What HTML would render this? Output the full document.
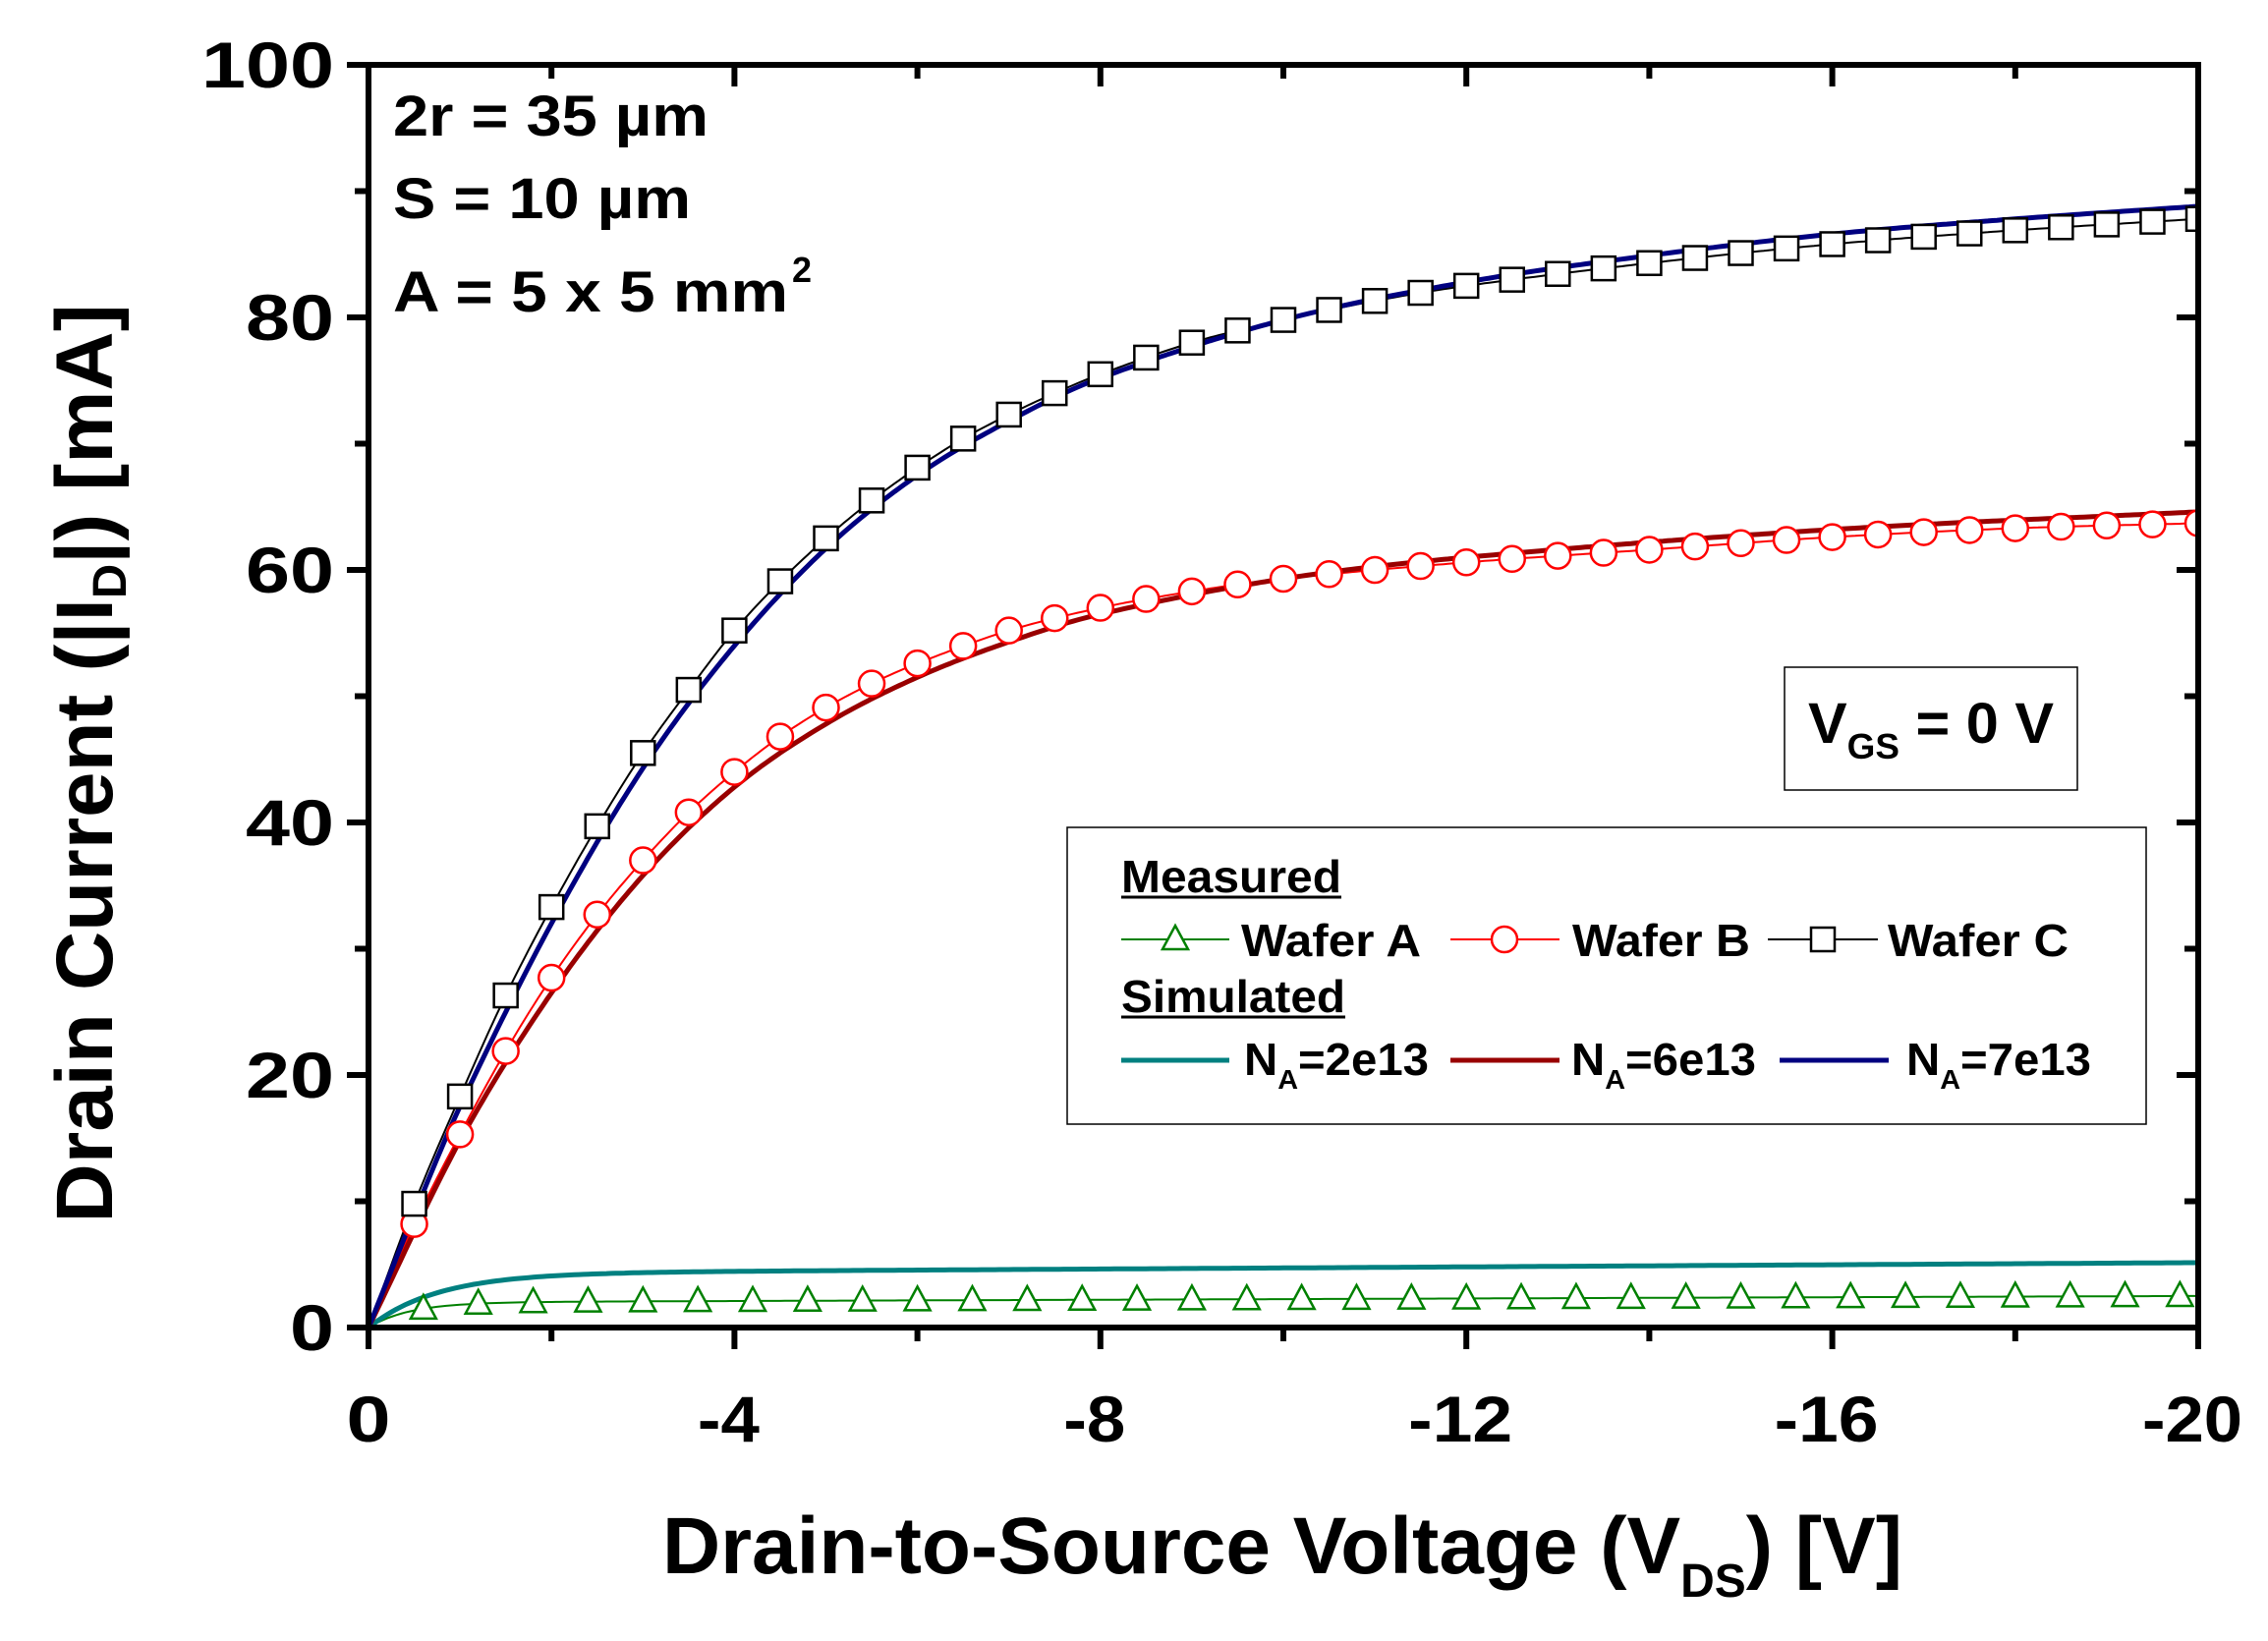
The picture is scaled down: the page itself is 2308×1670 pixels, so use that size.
<!DOCTYPE html>
<html><head><meta charset="utf-8"><style>
html,body{margin:0;padding:0;background:#fff;}
svg{display:block;}
text{font-family:"Liberation Sans",Arial,sans-serif;font-weight:bold;}
</style></head><body>
<svg id="s" width="2308" height="1670" xmlns="http://www.w3.org/2000/svg"></svg>
<script>
const s=document.getElementById('s');
const L=375,R=2237,T=66,B=1351;
const X=v=>L+v/20*(R-L), Y=i=>B-i/100*(B-T);
let h='';
function mk(tab){const xs=Object.keys(tab).map(Number).sort((a,b)=>a-b),ys=xs.map(k=>tab[k]);
 return v=>{let i=0;while(i<xs.length-2&&v>xs[i+1])i++;
  const x0=xs[i],x1=xs[i+1],t=(v-x0)/(x1-x0);
  const p0=i>0?ys[i-1]:ys[0]-(ys[1]-ys[0]),p1=ys[i],p2=ys[i+1],p3=i+2<ys.length?ys[i+2]:ys[i+1]+(ys[i+1]-ys[i]);
  const h0=i>0?(x1-xs[i-1]):2*(x1-x0),h1=i+2<xs.length?(xs[i+2]-x0):2*(x1-x0);
  const m1=(p2-p0)/h0*(x1-x0),m2=(p3-p1)/h1*(x1-x0);
  const t2=t*t,t3=t2*t;
  return (2*t3-3*t2+1)*p1+(t3-2*t2+t)*m1+(-2*t3+3*t2)*p2+(t3-t2)*m2;};}
const fC=mk({0:0,.5:9.8,1:18.3,1.5:26.3,2:33.3,2.5:39.7,3:45.5,3.5:50.5,4:55.2,4.5:59.1,5:62.5,5.5:65.5,6:68.1,6.5:70.4,7:72.3,7.5:74,8:75.5,9:78,10:79.8,11:81.3,12:82.5,14:84.3,16:85.8,18:86.9,20:87.8});
const fBl=mk({0:0,.5:9,1:17.5,2:32,3:44.3,4:54,5:61.7,6:67.5,7:71.8,8:75.2,10:79.8,12:82.8,14:84.9,16:86.6,18:87.8,20:88.8});
const fB=mk({0:0,.5:8.2,1:15.3,1.5:21.9,2:27.7,2.5:32.7,3:37,3.5:40.8,4:44,4.5:46.8,5:49.1,5.5:51,6:52.6,7:55.2,8:57,9:58.3,10:59.3,12:60.6,14:61.6,16:62.6,18:63.3,20:63.7});
const fR=mk({0:0,1:14.8,2:26.5,3:35.8,4:42.8,5:47.8,6:51.5,7:54.3,8:56.5,10:59.3,12:61,16:63.2,20:64.6});
const f=(a,t,b,v)=>a*(1-Math.exp(-v/t))+b*v;
const fA=v=>f(2.0,0.45,0.025,v), fT=v=>f(4.3,0.75,0.042,v);
function path(fn,col,w){let d='';for(let v=0;v<=20.001;v+=0.05){d+=(d?'L':'M')+X(v).toFixed(1)+','+Y(fn(v)).toFixed(1);}return `<path d="${d}" fill="none" stroke="${col}" stroke-width="${w}"/>`;}
h+=path(fA,'#008000',2);h+=path(fB,'#ff0000',2);h+=path(fC,'#000',2);
h+=path(fT,'#008080',5);h+=path(fR,'#990000',5);h+=path(fBl,'#000080',5);
for(let v=0.6;v<=19.85;v+=0.6){const x=X(v),y=Y(fA(v));h+=`<polygon points="${x},${y-14} ${x-13},${y+10} ${x+13},${y+10}" fill="#fff" stroke="#008000" stroke-width="2.5"/>`;}
for(let v=0.5;v<=20.01;v+=0.5){const x=X(v),y=Y(fB(v));h+=`<circle cx="${x}" cy="${y}" r="13" fill="#fff" stroke="#ff0000" stroke-width="2.5"/>`;}
for(let v=0.5;v<=20.01;v+=0.5){const x=X(v),y=Y(fC(v));h+=`<rect x="${x-12}" y="${y-12}" width="24" height="24" fill="#fff" stroke="#000" stroke-width="2.5"/>`;}
h+=`<rect x="${R+3}" y="0" width="100" height="1670" fill="#fff"/>`;
h+=`<rect x="${L}" y="${T}" width="${R-L}" height="${B-T}" fill="none" stroke="#000" stroke-width="6"/>`;
const T2=(x,y,fs,w,txt,anchor)=>`<text x="${x}" y="${y}" font-size="${fs}" textLength="${w}" lengthAdjust="spacingAndGlyphs"${anchor?` text-anchor="${anchor}"`:''}>${txt}</text>`;
for(let i=0;i<=100;i+=10){const y=Y(i),len=i%20==0?22:14;
 h+=`<line x1="${L-len}" y1="${y}" x2="${L}" y2="${y}" stroke="#000" stroke-width="6"/>`;
 h+=`<line x1="${R}" y1="${y}" x2="${R-len}" y2="${y}" stroke="#000" stroke-width="6"/>`;
 if(i%20==0){const s2=String(i),w=s2.length*45;h+=T2(340-w,y+23,66,w,s2);}}
const xw={0:45,4:63,8:63,12:106,16:106,20:102};
for(let v=0;v<=20;v+=2){const x=X(v),len=v%4==0?22:14;
 h+=`<line x1="${x}" y1="${B}" x2="${x}" y2="${B+len}" stroke="#000" stroke-width="6"/>`;
 h+=`<line x1="${x}" y1="${T}" x2="${x}" y2="${T+len}" stroke="#000" stroke-width="6"/>`;
 if(v%4==0){const w=xw[v];h+=T2(x-w/2-(v?6:0),1467,66,w,v?'-'+v:'0');}}
h+=`<text transform="translate(114,777) rotate(-90)" font-size="82" text-anchor="middle" textLength="935" lengthAdjust="spacingAndGlyphs">Drain Current (|I<tspan font-size="48" dy="14">D</tspan><tspan dy="-14">|) [mA]</tspan></text>`;
h+=`<text x="674" y="1601" font-size="82" textLength="1262" lengthAdjust="spacingAndGlyphs">Drain-to-Source Voltage (V<tspan font-size="48" dy="24">DS</tspan><tspan dy="-24">) [V]</tspan></text>`;
h+=T2(400,138,58,321,'2r = 35 µm');
h+=T2(400,222,58,303,'S = 10 µm');
h+=T2(400,317,58,402,'A = 5 x 5 mm')+`<text x="806" y="287" font-size="36">2</text>`;
h+=`<rect x="1816" y="679" width="298" height="125" fill="#fff" stroke="#000" stroke-width="1.5"/>`;
h+=`<text x="1840" y="756" font-size="58" textLength="250" lengthAdjust="spacingAndGlyphs">V<tspan font-size="36" dy="16">GS</tspan><tspan dy="-16"> = 0 V</tspan></text>`;
h+=`<rect x="1086" y="842" width="1098" height="302" fill="#fff" stroke="#000" stroke-width="1.5"/>`;
h+=T2(1141,908,46,224,'Measured');
h+=`<line x1="1141" y1="913" x2="1365" y2="913" stroke="#000" stroke-width="3"/>`;
h+=T2(1141,1030,46,228,'Simulated');
h+=`<line x1="1141" y1="1035" x2="1369" y2="1035" stroke="#000" stroke-width="3"/>`;
const ly=956;
h+=`<line x1="1141" y1="${ly}" x2="1251" y2="${ly}" stroke="#008000" stroke-width="2"/><polygon points="1196,${ly-14} 1183,${ly+10} 1209,${ly+10}" fill="#fff" stroke="#008000" stroke-width="2.5"/>`+T2(1263,973,46,183,'Wafer A');
h+=`<line x1="1476" y1="${ly}" x2="1587" y2="${ly}" stroke="#f00" stroke-width="2"/><circle cx="1531" cy="${ly}" r="13" fill="#fff" stroke="#f00" stroke-width="2.5"/>`+T2(1600,973,46,181,'Wafer B');
h+=`<line x1="1799" y1="${ly}" x2="1911" y2="${ly}" stroke="#000" stroke-width="2"/><rect x="1843" y="${ly-12}" width="24" height="24" fill="#fff" stroke="#000" stroke-width="2.5"/>`+T2(1921,973,46,184,'Wafer C');
const sy=1079;
[[1141,1251,'#008080'],[1476,1587,'#990000'],[1811,1922,'#000080']].forEach(a=>{
 h+=`<line x1="${a[0]}" y1="${sy}" x2="${a[1]}" y2="${sy}" stroke="${a[2]}" stroke-width="5"/>`;});
[[1266,'2e13'],[1599,'6e13'],[1940,'7e13']].forEach(a=>{
 h+=`<text x="${a[0]}" y="1094" font-size="46" textLength="188" lengthAdjust="spacingAndGlyphs">N<tspan font-size="28" dy="14">A</tspan><tspan dy="-14">=${a[1]}</tspan></text>`;});
s.innerHTML=h;
</script>
</body></html>
